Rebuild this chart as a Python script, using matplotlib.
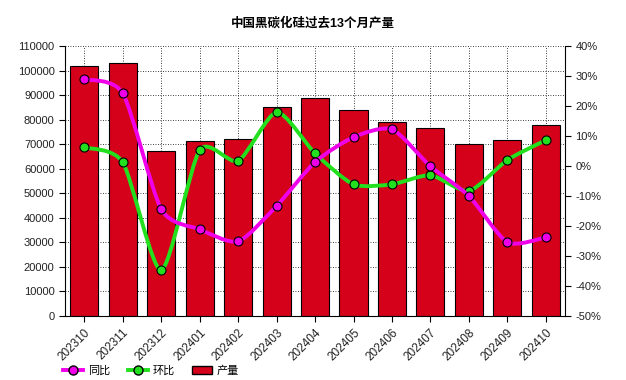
import matplotlib
matplotlib.use("Agg")
import matplotlib.pyplot as plt
import numpy as np
from matplotlib.path import Path
from matplotlib.patches import PathPatch
from matplotlib.lines import Line2D
from matplotlib.patches import Patch

plt.rcParams['font.family'] = ['Liberation Sans', 'Noto Sans CJK SC', 'DejaVu Sans']

months = ["202310", "202311", "202312", "202401", "202402", "202403", "202404",
          "202405", "202406", "202407", "202408", "202409", "202410"]
output = [102000, 103000, 67200, 71200, 72000, 85000, 88700,
          83800, 79000, 76500, 70000, 71700, 77700]
yoy = [28.9, 24.2, -14.4, -21.1, -25.1, -13.3, 1.3,
       9.6, 12.2, -0.1, -10.0, -25.4, -23.8]
mom = [6.2, 1.2, -34.7, 5.3, 1.7, 17.9, 4.2,
       -6.1, -6.1, -3.1, -8.3, 2.0, 8.6]

title = "中国黑碳化硅过去13个月产量"
legend_labels = ["同比", "环比", "产量"]

fig = plt.figure(figsize=(6.26, 3.80), dpi=100)
ax = fig.add_axes([0.104, 0.1684, 0.7986, 0.7106])
ax2 = ax.twinx()

x = np.arange(len(months))
ax.bar(x, output, width=0.73, color="#D5001A", edgecolor="black", linewidth=0.8, zorder=2)
ax.set_xlim(-0.5, len(months) - 0.5)
ax.set_ylim(0, 110000)
ax.set_yticks(np.arange(0, 110001, 10000))
ax.set_xticks(x)
ax.set_xticklabels(months, rotation=45, ha="right", va="top", rotation_mode="anchor")
ax.grid(True, color="black", linestyle=(0, (1, 2)), linewidth=0.6, zorder=0)
ax.set_axisbelow(True)

ax2.set_ylim(-50, 40)
ax2.set_yticks(np.arange(-50, 41, 10))
ax2.set_yticklabels([f"{v}%" for v in range(-50, 41, 10)])

def smooth_path(xs, ys, t=0.12):
    verts = [(xs[0], ys[0])]
    codes = [Path.MOVETO]
    n = len(xs)
    for i in range(n - 1):
        p0 = (xs[i - 1], ys[i - 1]) if i > 0 else (xs[i], ys[i])
        p1 = (xs[i], ys[i])
        p2 = (xs[i + 1], ys[i + 1])
        p3 = (xs[i + 2], ys[i + 2]) if i + 2 < n else p2
        c1 = (p1[0] + (p2[0] - p0[0]) * t, p1[1] + (p2[1] - p0[1]) * t)
        c2 = (p2[0] - (p3[0] - p1[0]) * t, p2[1] - (p3[1] - p1[1]) * t)
        verts += [c1, c2, p2]
        codes += [Path.CURVE4] * 3
    return Path(verts, codes)

for vals, col, z in [(yoy, "#F000E8", 4), (mom, "#22E01E", 3)]:
    pp = PathPatch(smooth_path(x, vals), facecolor="none", edgecolor=col, linewidth=2.8, zorder=z)
    ax2.add_patch(pp)
    ax2.plot(x, vals, linestyle="none", marker="o", markersize=6.5, markerfacecolor=col,
             markeredgecolor="black", markeredgewidth=0.8, zorder=z + 0.5)

for a in (ax, ax2):
    a.tick_params(labelsize=8, length=4, width=0.8, colors="black", labelcolor="#222222")
    for s in a.spines.values():
        s.set_visible(False)
ax.tick_params(axis="x", labelsize=8.5)
ax.spines["left"].set_visible(True)
ax.spines["bottom"].set_visible(True)
ax2.spines["right"].set_visible(True)

fig.suptitle(title, y=0.955, fontsize=9, fontweight="bold")

handles = [
    Line2D([], [], color="#F000E8", linewidth=2.8, marker="o", markersize=6.5,
           markerfacecolor="#F000E8", markeredgecolor="black"),
    Line2D([], [], color="#22E01E", linewidth=2.8, marker="o", markersize=6.5,
           markerfacecolor="#22E01E", markeredgecolor="black"),
    Patch(facecolor="#D5001A", edgecolor="black"),
]
fig.legend(handles, legend_labels, loc="lower left", bbox_to_anchor=(0.085, -0.015),
           ncol=3, frameon=False, fontsize=8, handlelength=1.8, columnspacing=1.6,
           handletextpad=0.4)

fig.savefig("out.png", dpi=100)
